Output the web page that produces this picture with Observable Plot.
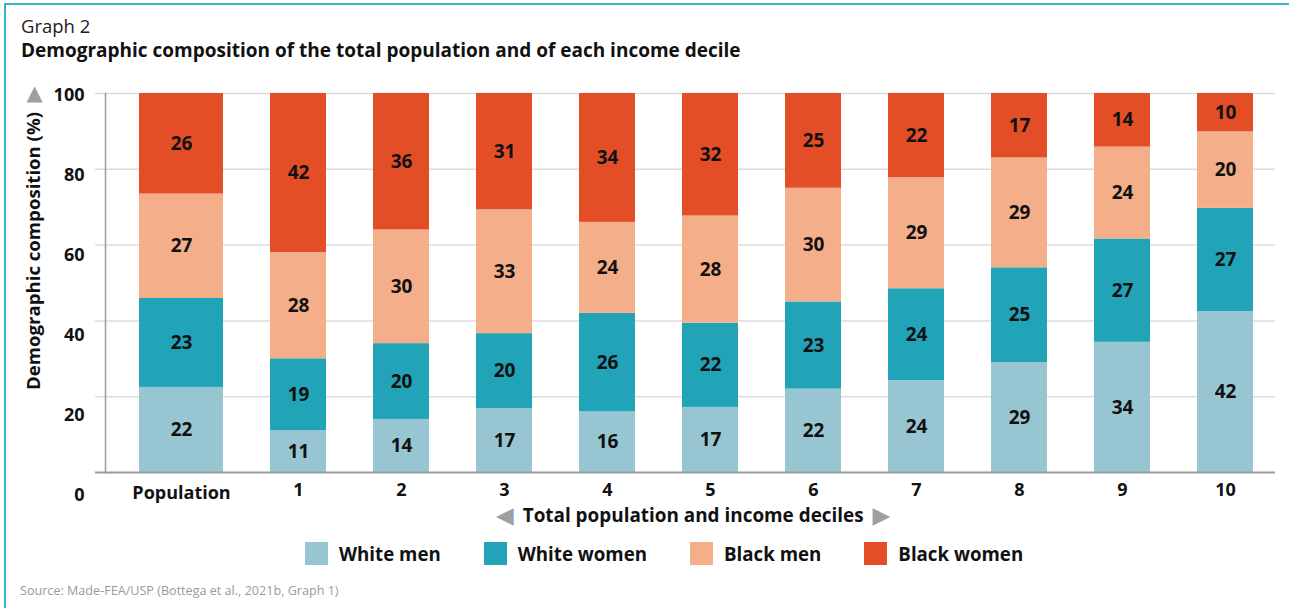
<!DOCTYPE html>
<html>
<head>
<meta charset="utf-8">
<script src="https://cdn.jsdelivr.net/npm/d3@7"></script>
<script src="https://cdn.jsdelivr.net/npm/@observablehq/plot@0.6"></script>
<style>
  html, body { margin: 0; padding: 0; background: #fff; }
  body { width: 1289px; height: 608px; position: relative; overflow: hidden; font-family: 'Open Sans', sans-serif; color: #111; }
  .frame { position: absolute; left: 4px; top: 3px; width: 1300px; height: 700px; border-top: 2px solid #34b6ca; border-left: 2px solid #34b6ca; }
  .t1 { position: absolute; left: 21px; top: 17px; font-size: 18.5px; line-height: 18px; color: #222; white-space: nowrap; }
  .t2 { position: absolute; left: 21px; top: 41px; font-size: 19px; line-height: 19px; font-weight: 700; white-space: nowrap; }
  #chart { position: absolute; left: 0; top: 70px; }
  .xt { position: absolute; left: 496px; top: 506px; height: 19px; display: flex; align-items: center; font-size: 18.9px; line-height: 19px; font-weight: 700; white-space: nowrap; }
  .xt .arr { color: #9f9f9f; font-family: 'DejaVu Sans', sans-serif; font-size: 23px; font-weight: 400; }
  .xt .txt { margin: 0 9px; }
  .legend { position: absolute; left: 305px; top: 542px; height: 23px; display: flex; align-items: center; }
  .legend .item { display: flex; align-items: center; margin-right: 43px; }
  .legend .sw { width: 23px; height: 23px; margin-right: 11px; }
  .legend .lb { font-size: 18.7px; line-height: 23px; font-weight: 700; white-space: nowrap; }
  .src { position: absolute; left: 20px; top: 585px; font-size: 12.6px; line-height: 12.6px; color: #9a9a9a; white-space: nowrap; }
</style>
</head>
<body>
<div class="frame"></div>
<div class="t1">Graph 2</div>
<div class="t2">Demographic composition of the total population and of each income decile</div>
<div id="chart"></div>
<div class="xt"><span class="arr">◀</span><span class="txt">Total population and income deciles</span><span class="arr">▶</span></div>
<div class="legend" id="legend"></div>
<div class="src">Source: Made-FEA/USP (Bottega et al., 2021b, Graph 1)</div>
<script>
const groups = ["Population", "1", "2", "3", "4", "5", "6", "7", "8", "9", "10"];
const series = ["White men", "White women", "Black men", "Black women"];
const whiteMen   = [22, 11, 14, 17, 16, 17, 22, 24, 29, 34, 42];
const whiteWomen = [23, 19, 20, 20, 26, 22, 23, 24, 25, 27, 27];
const blackMen   = [27, 28, 30, 33, 24, 28, 30, 29, 29, 24, 20];
const blackWomen = [26, 42, 36, 31, 34, 32, 25, 22, 17, 14, 10];
const yTicks = [0, 20, 40, 60, 80, 100];
const colors = ["#97c6d2", "#21a4b7", "#f4ae8a", "#e34e26"];

const seriesValues = [whiteMen, whiteWomen, blackMen, blackWomen];
const rows = groups.flatMap((g, i) => series.map((s, j) => ({group: g, series: s, value: seriesValues[j][i]})));
const popRows = rows.filter(d => d.group === "Population");
const decRows = rows.filter(d => d.group !== "Population");

const stackOpts = {x: "group", y: "value", z: "series", order: series, offset: "normalize"};
const popShift = -14;
const labelFont = {fontSize: 19, fontWeight: "bold", fill: "#111"};
const tickFont = {fontSize: 18, fontWeight: "bold", fill: "#111"};

const yAxisMarks = yTicks.map(t => Plot.axisY([t / 100], {
  tickSize: 0, tickPadding: 11, label: null,
  tickFormat: d => Math.round(d * 100),
  dy: 2 + (100 - t) * 0.21, ...tickFont
}));

const chart = Plot.plot({
  width: 1289,
  height: 460,
  marginLeft: 95,
  marginRight: 14,
  marginTop: 23,
  marginBottom: 58,
  style: {fontFamily: "'Open Sans', sans-serif", background: "transparent"},
  x: {domain: groups, range: [141, 1278], paddingInner: 0.46, paddingOuter: 0.23, axis: null},
  y: {domain: [0, 1], axis: null},
  color: {domain: series, range: colors},
  marks: [
    Plot.gridY(yTicks.filter(t => t > 0).map(t => t / 100), {stroke: "#dcdcdc", strokeOpacity: 1, strokeWidth: 1.5}),
    Plot.frame({anchor: "left", dx: 10, stroke: "#9a9a9a", strokeWidth: 1.5}),
    Plot.barY(popRows, Plot.stackY({...stackOpts, fill: "series", insetLeft: popShift, insetRight: popShift, dx: popShift})),
    Plot.barY(decRows, Plot.stackY({...stackOpts, fill: "series"})),
    Plot.ruleY([0], {stroke: "#9a9a9a", strokeWidth: 2}),
    Plot.text(popRows, Plot.stackY({...stackOpts, text: "value", dx: popShift, ...labelFont})),
    Plot.text(decRows, Plot.stackY({...stackOpts, text: "value", ...labelFont})),
    ...yAxisMarks,
    Plot.axisX(["Population"], {tickSize: 0, tickPadding: 11, dx: popShift, dy: 3, label: null, ...tickFont}),
    Plot.axisX(groups.slice(1), {tickSize: 0, tickPadding: 11, label: null, ...tickFont}),
    Plot.text(["Demographic composition (%)"], {frameAnchor: "left", rotate: -90, dx: -61, dy: -32, textAnchor: "middle", lineAnchor: "middle", fontSize: 18.6, fontWeight: "bold", fill: "#111"}),
    Plot.text(["▲"], {frameAnchor: "top-left", dx: -61, dy: 0, textAnchor: "middle", lineAnchor: "middle", fill: "#9f9f9f", fontSize: 21, fontFamily: "'DejaVu Sans', sans-serif"})
  ]
});
document.getElementById("chart").appendChild(chart);

const legend = document.getElementById("legend");
series.forEach((s, i) => {
  const item = document.createElement("div");
  item.className = "item";
  item.innerHTML = `<span class="sw" style="background:${colors[i]}"></span><span class="lb">${s}</span>`;
  legend.appendChild(item);
});
</script>
</body>
</html>
